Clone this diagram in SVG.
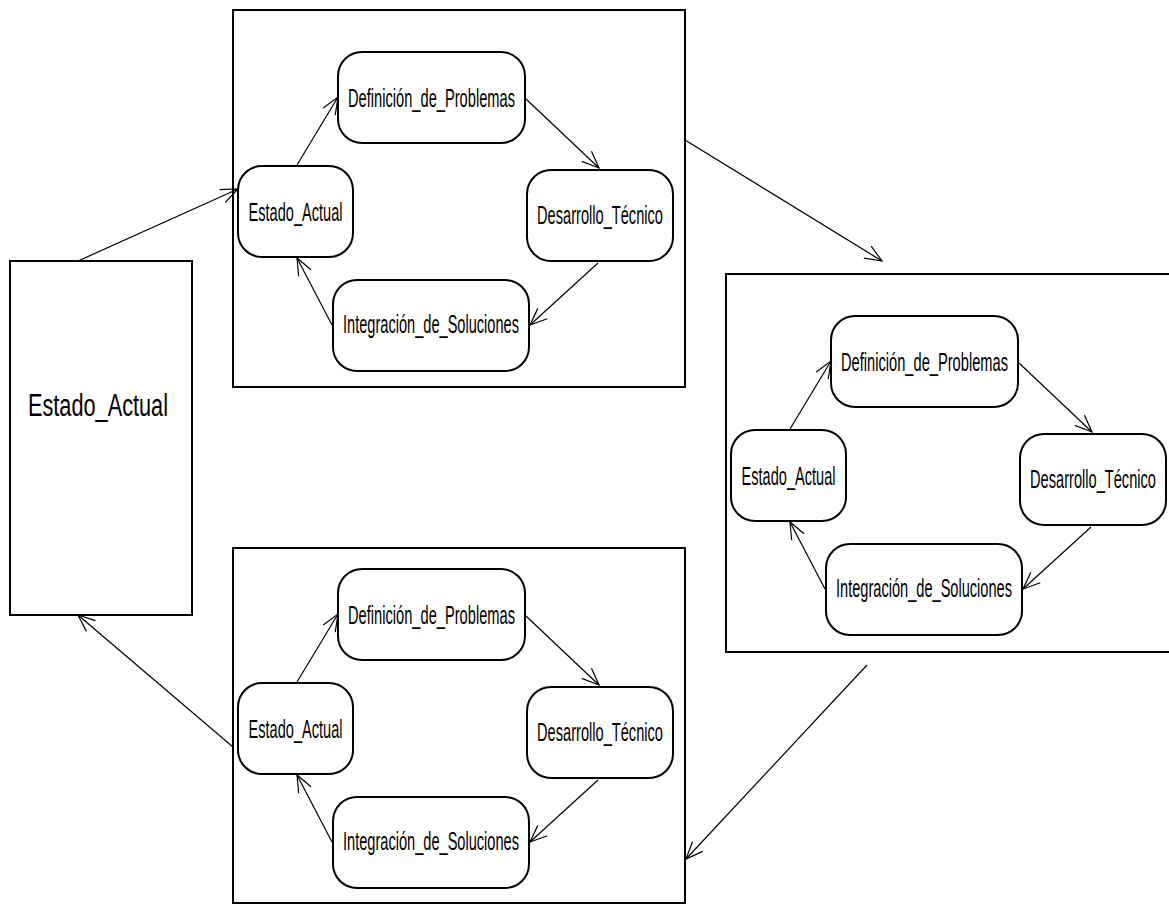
<svg xmlns="http://www.w3.org/2000/svg" width="1169" height="905" viewBox="0 0 1169 905">
<style>
.cont{fill:#fff;stroke:#000;stroke-width:2}
.node{fill:#fff;stroke:#000;stroke-width:2}
.lbl{font-family:"Liberation Sans",Arial,sans-serif;font-size:26px;fill:#000;text-anchor:middle}
.big{font-family:"Liberation Sans",Arial,sans-serif;font-size:31px;fill:#000;text-anchor:middle}
.edge{fill:none;stroke:#000;stroke-width:1.2;marker-end:url(#arr)}
</style>
<defs>
<marker id="arr" markerUnits="userSpaceOnUse" markerWidth="24" markerHeight="24" viewBox="-20 -12 24 24" refX="0" refY="0" orient="auto">
<path d="M-17,-7 L0,0 L-17,7" fill="none" stroke="#000" stroke-width="1.2"/>
</marker>
</defs>
<rect x="0" y="0" width="1169" height="905" fill="#fff"/>
<g id="estado-actual-main">
<rect class="cont" x="10" y="261" width="182" height="354"/>
<text class="big" x="98" y="416" textLength="140" lengthAdjust="spacingAndGlyphs">Estado_Actual</text>
</g>

<g id="ciclo-1">
<rect class="cont" x="233" y="10" width="452" height="377"/>
<g id="c1-def"><rect class="node" x="338" y="52" width="187" height="91" rx="24" ry="24"/><text class="lbl" x="431.5" y="107" textLength="167" lengthAdjust="spacingAndGlyphs">Definición_de_Problemas</text></g>
<g id="c1-est"><rect class="node" x="238" y="166" width="115" height="91" rx="24" ry="24"/><text class="lbl" x="295.5" y="221" textLength="94" lengthAdjust="spacingAndGlyphs">Estado_Actual</text></g>
<g id="c1-des"><rect class="node" x="527" y="170" width="146" height="91" rx="24" ry="24"/><text class="lbl" x="600" y="224" textLength="126" lengthAdjust="spacingAndGlyphs">Desarrollo_Técnico</text></g>
<g id="c1-int"><rect class="node" x="333" y="280" width="196" height="91" rx="24" ry="24"/><text class="lbl" x="431" y="333" textLength="176" lengthAdjust="spacingAndGlyphs">Integración_de_Soluciones</text></g>
</g>

<g id="ciclo-2">
<rect class="cont" x="726" y="274" width="452" height="378"/>
<g id="c2-def"><rect class="node" x="831" y="316" width="187" height="91" rx="24" ry="24"/><text class="lbl" x="924.5" y="371" textLength="167" lengthAdjust="spacingAndGlyphs">Definición_de_Problemas</text></g>
<g id="c2-est"><rect class="node" x="731" y="430" width="115" height="91" rx="24" ry="24"/><text class="lbl" x="788.5" y="485" textLength="94" lengthAdjust="spacingAndGlyphs">Estado_Actual</text></g>
<g id="c2-des"><rect class="node" x="1020" y="434" width="146" height="91" rx="24" ry="24"/><text class="lbl" x="1093" y="488" textLength="126" lengthAdjust="spacingAndGlyphs">Desarrollo_Técnico</text></g>
<g id="c2-int"><rect class="node" x="826" y="544" width="196" height="91" rx="24" ry="24"/><text class="lbl" x="924" y="597" textLength="176" lengthAdjust="spacingAndGlyphs">Integración_de_Soluciones</text></g>
</g>

<g id="ciclo-3">
<rect class="cont" x="233" y="548" width="452" height="355"/>
<g id="c3-def"><rect class="node" x="338" y="569" width="187" height="91" rx="24" ry="24"/><text class="lbl" x="431.5" y="624" textLength="167" lengthAdjust="spacingAndGlyphs">Definición_de_Problemas</text></g>
<g id="c3-est"><rect class="node" x="238" y="683" width="115" height="91" rx="24" ry="24"/><text class="lbl" x="295.5" y="738" textLength="94" lengthAdjust="spacingAndGlyphs">Estado_Actual</text></g>
<g id="c3-des"><rect class="node" x="527" y="687" width="146" height="91" rx="24" ry="24"/><text class="lbl" x="600" y="741" textLength="126" lengthAdjust="spacingAndGlyphs">Desarrollo_Técnico</text></g>
<g id="c3-int"><rect class="node" x="333" y="797" width="196" height="91" rx="24" ry="24"/><text class="lbl" x="431" y="850" textLength="176" lengthAdjust="spacingAndGlyphs">Integración_de_Soluciones</text></g>
</g>

<g id="connectors">
<line class="edge" x1="297" y1="165" x2="338" y2="97"/>
<line class="edge" x1="526" y1="99" x2="599" y2="168"/>
<line class="edge" x1="598" y1="263" x2="530" y2="325"/>
<line class="edge" x1="332" y1="325" x2="297" y2="258"/>

<line class="edge" x1="790" y1="429" x2="831" y2="361"/>
<line class="edge" x1="1019" y1="363" x2="1092" y2="432"/>
<line class="edge" x1="1091" y1="527" x2="1023" y2="589"/>
<line class="edge" x1="825" y1="589" x2="790" y2="522"/>

<line class="edge" x1="297" y1="682" x2="338" y2="614"/>
<line class="edge" x1="526" y1="616" x2="599" y2="685"/>
<line class="edge" x1="598" y1="780" x2="530" y2="842"/>
<line class="edge" x1="332" y1="842" x2="297" y2="775"/>

<line class="edge" x1="78" y1="261" x2="238" y2="189"/>
<line class="edge" x1="685" y1="140" x2="882" y2="261"/>
<line class="edge" x1="867" y1="665" x2="686" y2="859"/>
<line class="edge" x1="233" y1="747" x2="78" y2="615"/>
</g>
</svg>
